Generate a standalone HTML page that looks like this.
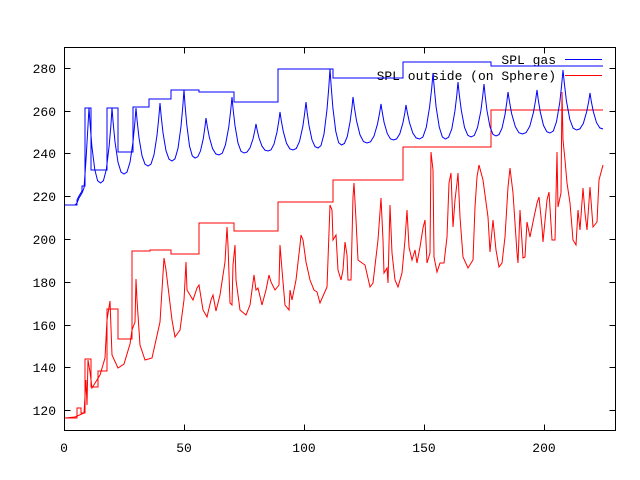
<!DOCTYPE html>
<html><head><meta charset="utf-8"><style>
html,body{margin:0;padding:0;background:#fff;}
svg{display:block;}
text{font-family:"Liberation Mono","DejaVu Sans Mono",monospace;font-size:13px;fill:#000;}
</style></head><body>
<svg width="640" height="480" xmlns="http://www.w3.org/2000/svg">
<rect x="0" y="0" width="640" height="480" fill="#fff"/>
<g stroke="#000" stroke-width="1" fill="none">
<rect x="64.5" y="47.5" width="551" height="383"/>
<path d="M64.5 410.5h6M615.5 410.5h-6M64.5 367.5h6M615.5 367.5h-6M64.5 325.5h6M615.5 325.5h-6M64.5 282.5h6M615.5 282.5h-6M64.5 239.5h6M615.5 239.5h-6M64.5 196.5h6M615.5 196.5h-6M64.5 153.5h6M615.5 153.5h-6M64.5 111.5h6M615.5 111.5h-6M64.5 68.5h6M615.5 68.5h-6"/>
<path d="M184.5 430.5v-6M184.5 47.5v6M304.5 430.5v-6M304.5 47.5v6M424.5 430.5v-6M424.5 47.5v6M544.5 430.5v-6M544.5 47.5v6"/>
</g>
<g text-anchor="end">
<text x="56" y="415">120</text><text x="56" y="372">140</text><text x="56" y="330">160</text>
<text x="56" y="287">180</text><text x="56" y="244">200</text><text x="56" y="201">220</text>
<text x="56" y="158">240</text><text x="56" y="116">260</text><text x="56" y="73">280</text>
</g>
<g text-anchor="middle">
<text x="64" y="452">0</text><text x="184" y="452">50</text><text x="304" y="452">100</text>
<text x="424" y="452">150</text><text x="544" y="452">200</text>
</g>
<text x="556" y="64" text-anchor="end">SPL gas</text>
<text x="556" y="80" text-anchor="end">SPL outside (on Sphere)</text>
<line x1="565" y1="59.5" x2="602" y2="59.5" stroke="#00f"/>
<line x1="565" y1="75.5" x2="602" y2="75.5" stroke="#f00"/>
<polyline fill="none" stroke="#00f" stroke-width="1" points="65,205 77,205 77,200 79,196 82,191 82,186 85,186 85,177 85,108 91,108 91,170 107,170 107,108 118,108 118,152 133,152 133,107 149,107 149,99 171,99 171,90 199,90 199,92 234,92 234,102 278,102 278,69 333,69 333,78 403,78 403,62 491,62 491,66 603,66"/>
<polyline fill="none" stroke="#f00" stroke-width="1" points="65,418 77,418 77,408 81,408 81,413 85,413 85,359 91,359 91,387 98,387 98,371 107,371 107,309 118,309 118,339 132,339 132,251 150,251 150,250 171,250 171,254 199,254 199,223 234,223 234,231 278,231 278,202 333,202 333,180 403,180 403,147 491,147 491,110 603,110"/>
<polyline fill="none" stroke="#00f" stroke-width="1" points="65,205 75,205 77,203 79,198 82,193 84,188 86,160 89,108 90.2,125.4 91.9,146.5 94.8,169.7 97.6,180.7 100.5,183 103.4,180.7 106.3,169.7 109.1,146.5 110.9,125.4 112,108 113.2,123.3 115,141.9 118,162.3 121,172 124,174 127,172 130,162.3 133,141.9 134.8,123.3 136,108 137.2,121.5 139,137.8 142,155.7 145,164.2 148,166 151,164 154,154.8 157,135.3 158.8,117.6 160,103 161.2,116.5 163,132.8 166,150.7 169,159.2 172,161 175,158.8 178,148.4 181,126.4 182.8,106.5 184,90 185.1,105.8 186.8,124.9 189.5,146 192.3,155.9 195,158 197.8,156.8 200.5,150.9 203.3,138.5 204.9,127.3 206,118 207.3,126.6 209.3,137 212.5,148.5 215.8,153.9 219,155 222.3,153.2 225.5,144.7 228.8,126.8 230.7,110.5 232,97 233.2,110 235,125.7 238,143.1 241,151.3 244,153 247,152.1 250,147.9 253,138.9 254.8,130.7 256,124 257.2,130.3 259,137.9 262,146.2 265,150.2 268,151 271,149.8 274,144.1 277,132 278.8,121 280,112 281.3,120.8 283.3,131.5 286.5,143.3 289.8,148.8 293,150 296.3,148.5 299.5,141.5 302.8,126.6 304.7,113.1 306,102 307.2,112.7 309,125.6 312,139.9 315,146.6 318,148 321,145.6 324,134 327,109.5 328.8,87.3 330,69 331.2,86.6 332.9,108 335.8,131.5 338.6,142.6 341.5,145 344.4,143.5 347.3,136.5 350.1,121.6 351.9,108.1 353,97 354.4,107.7 356.5,120.6 360,134.9 363.5,141.6 367,143 370.5,141.8 374,136.1 377.5,124 379.6,113 381,104 382.3,112.4 384.1,122.5 387.3,133.6 390.4,138.9 393.5,140 396.6,138.9 399.8,133.8 402.9,123 404.8,113.1 406,105 407.4,112.9 409.4,122.4 412.8,133 416.1,137.9 419.5,139 422.9,137 426.3,127.3 429.6,106.9 431.7,88.3 433,73 434.3,88.3 436.1,106.9 439.3,127.3 442.4,137 445.5,139 448.6,137.2 451.8,128.9 454.9,111.2 456.8,95.2 458,82 459.3,94.8 461.3,110.2 464.5,127.3 467.8,135.3 471,137 474.3,135.4 477.5,127.6 480.8,111.2 482.7,96.3 484,84 485.2,96 487,110.7 490,126.8 493,134.4 496,136 499,134.6 502,128.2 505,114.6 506.8,102.2 508,92 509.5,101.7 511.6,113.5 515.3,126.6 518.9,132.7 522.5,134 526.1,132.6 529.8,126.2 533.4,112.6 535.6,100.2 537,90 538.3,100 540.3,112.1 543.5,125.4 546.8,131.7 550,133 553.3,131 556.5,121.8 559.8,102.3 561.7,84.6 563,70 564.4,83.9 566.4,100.8 569.8,119.4 573.1,128.1 576.5,130 579.9,128.9 583.3,123.5 586.6,112 588.7,101.6 590,93 591.3,101.4 593.3,111.5 596.5,122.6 599.8,127.9 603,129"/>
<polyline fill="none" stroke="#f00" stroke-width="1" points="65,418 75,417 84,413 86,380 87,405 88,360 90,372 92,388 100,375 105,358 107,320 110,301 112,355 118,368 124,364 130,344 132,330 135,322 136,279 137,300 140,345 145,360 152,358 160,322 164,258 166,270 172,320 175,337 180,330 184,300 186,262 187,290 190,295 193,300 197,288 199,285 203,310 207,317 211,300 213,295 216,311 220,295 225,262 227,227 228,245 230,303 232,305 233,265 235,245 236,280 240,310 246,315 250,305 254,275 256,290 258,288 262,305 266,290 269,275 271,282 275,290 279,285 280,245 282,270 285,305 289,310 290,290 292,300 296,280 300,245 301,235 303,240 306,262 310,280 314,290 317,292 320,303 327,287 330,205 332,210 333,240 336,235 338,270 341,280 343,270 345,242 347,255 348,280 351,280 353,197 354,183 356,220 358,260 362,263 365,265 370,287 373,283 378,240 381,198 383,240 384,273 387,268 388,283 390,205 392,253 395,280 398,287 402,273 405,240 407,210 409,247 412,260 415,250 417,263 420,247 423,228 425,220 427,263 430,253 431,152 433,170 434,257 437,272 440,263 444,263 447,237 449,183 451,173 453,227 455,200 457,183 458,173 460,217 463,257 468,268 473,260 475,207 477,177 479,165 483,180 488,217 490,252 493,220 496,250 499,267 502,263 505,237 508,187 510,168 513,193 517,253 518,263 520,210 523,258 525,257 527,222 530,237 533,222 537,203 539,197 542,227 543,242 547,200 549,192 552,240 555,240 557,152 558,207 561,193 562,92 563,140 565,160 567,183 570,203 573,240 576,245 578,210 580,230 583,188 585,213 587,230 590,187 593,227 597,222 599,180 603,165"/>
</svg>
</body></html>
